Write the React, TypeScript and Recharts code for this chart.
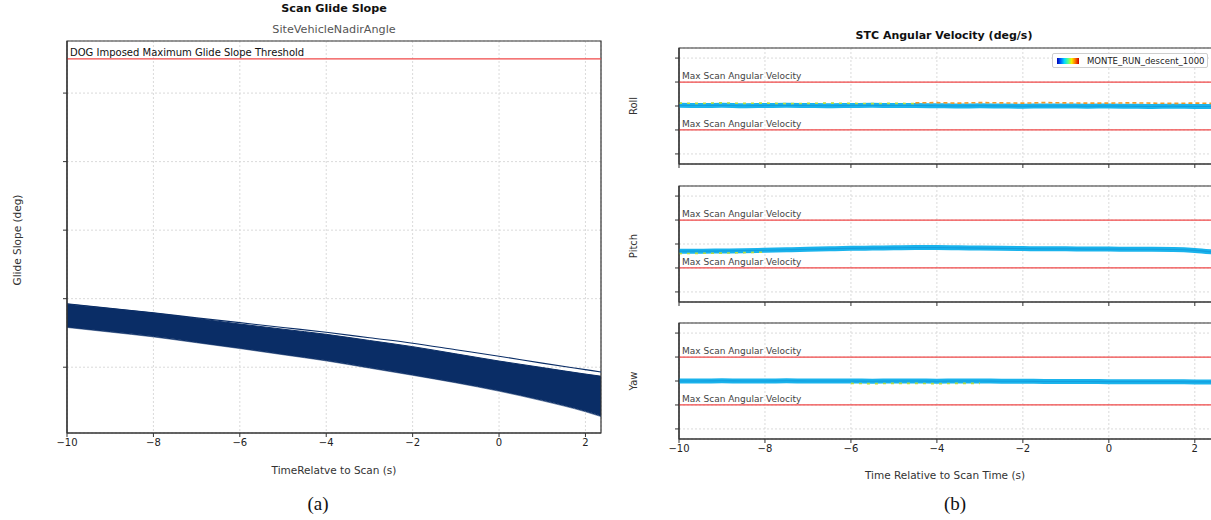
import React from 'react';
import {
  ComposedChart,
  Area,
  Line,
  XAxis,
  YAxis,
  CartesianGrid,
  ReferenceLine,
  ReferenceArea
} from 'recharts';

// ---- (a) Scan glide slope ----
const glideTime = [-10, -9, -8, -7, -6, -5, -4, -3, -2, -1, 0, 1, 2, 2.36];
const glideUpper = [19.2, 18.55, 17.9, 17.1, 16.3, 15.55, 14.8, 13.9, 13.0, 11.95, 10.9, 9.95, 9.0, 8.69];
const glideLower = [15.88, 15.2, 14.5, 13.65, 12.8, 11.9, 11.0, 9.95, 8.9, 7.8, 6.6, 5.2, 3.6, 2.9];
const glideHighRun = [19.25, 18.6, 17.95, 17.2, 16.5, 15.8, 15.1, 14.3, 13.5, 12.55, 11.6, 10.6, 9.65, 9.31];
const glideLowRun = [15.8, 15.12, 14.42, 13.57, 12.72, 11.82, 10.92, 9.87, 8.82, 7.72, 6.5, 5.1, 3.5, 2.8];
const glideThreshold = 55;
const glideTicksX = [-10, -8, -6, -4, -2, 0, 2];
const glideTicksY = [10, 20, 30, 40, 50];

// ---- (b) STC angular velocity ----
const rateTime = [-10, -9.5, -9, -8.5, -8, -7.5, -7, -6.5, -6, -5.5, -5, -4.5, -4, -3.5, -3, -2.5, -2, -1.5, -1, -0.5, 0, 0.5, 1, 1.5, 2, 2.4];
const rollRate = [0.03, 0.02, 0.03, 0.01, 0.02, 0.03, 0.02, 0.01, 0.02, 0.03, 0.02, 0.02, 0.01, 0.0, 0.01, 0.0, -0.01, 0.0, 0.0, -0.01, 0.0, -0.01, -0.02, -0.01, -0.02, -0.02];
const rollWarm = [null, null, null, null, null, null, null, null, null, null, null, 0.13, 0.14, 0.12, 0.14, 0.13, 0.12, 0.14, 0.13, 0.12, 0.12, 0.13, 0.12, 0.11, 0.12, 0.11];
const rollCool = [0.12, 0.11, 0.13, 0.11, 0.12, 0.1, 0.11, 0.12, 0.11, 0.1, 0.11, 0.1, null, null, null, null, null, null, null, null, null, null, null, null, null, null];
const pitchRate = [-0.3, -0.3, -0.29, -0.28, -0.26, -0.24, -0.22, -0.2, -0.18, -0.17, -0.16, -0.15, -0.15, -0.16, -0.17, -0.18, -0.19, -0.2, -0.2, -0.21, -0.21, -0.22, -0.22, -0.23, -0.27, -0.33];
const pitchCool = [-0.4, -0.39, -0.38, -0.36, -0.34, null, null, null, null, null, null, null, null, null, null, null, null, null, null, null, null, null, null, null, null, null];
const yawRate = [0.0, 0.0, 0.01, 0.0, 0.0, 0.01, 0.0, 0.0, 0.0, -0.01, 0.0, 0.0, -0.01, 0.0, 0.0, -0.01, -0.01, -0.02, -0.02, -0.02, -0.03, -0.03, -0.03, -0.03, -0.04, -0.04];
const yawCool = [null, null, null, null, null, null, null, null, -0.1, -0.11, -0.1, -0.1, -0.11, -0.1, -0.1, null, null, null, null, null, null, null, null, null, null, null];
const maxScanRate = 1;
const rateTicksX = [-10, -8, -6, -4, -2, 0, 2];
const rateTicksY = [-2, -1, 0, 1, 2];

const ink = '#333';
const font = '"DejaVu Sans", Verdana, sans-serif';
const navy = '#0a2d66';
const cyan = '#1ab3ec';
const red = '#f04848';
const gridColor = '#dadada';

const minus = (v: number) => String(v).replace('-', '\u2212');
const blank = () => '';

const glideData = glideTime.map((t, i) => ({
  t,
  band: [glideLower[i], glideUpper[i]],
  high: glideHighRun[i],
  low: glideLowRun[i]
}));

const rateRows = (main: number[], warm: (number | null)[] | null, cool: (number | null)[] | null) =>
  rateTime.map((t, i) => ({
    t,
    v: main[i],
    warm: warm ? warm[i] : null,
    cool: cool ? cool[i] : null
  }));

const rollData = rateRows(rollRate, rollWarm, rollCool);
const pitchData = rateRows(pitchRate, null, pitchCool);
const yawData = rateRows(yawRate, null, yawCool);

const text = (style: React.CSSProperties): React.CSSProperties => ({
  position: 'absolute',
  fontFamily: font,
  whiteSpace: 'nowrap',
  transform: 'translate(-50%, -50%)',
  ...style
});

const GlideChart = () => (
  <ComposedChart
    width={620}
    height={520}
    data={glideData}
    margin={{ top: 41, right: 19, bottom: 57, left: 57 }}
  >
    <CartesianGrid stroke={gridColor} strokeDasharray="2 2" />
    <XAxis
      dataKey="t"
      type="number"
      domain={[-10, 2.36]}
      ticks={glideTicksX}
      allowDataOverflow
      tickFormatter={minus}
      tick={{ fill: '#222', fontSize: 10, fontFamily: font }}
      tickSize={4}
      height={30}
      axisLine={{ stroke: ink, strokeWidth: 1.2 }}
      tickLine={{ stroke: ink }}
    />
    <YAxis
      type="number"
      domain={[0.4, 57.6]}
      ticks={glideTicksY}
      allowDataOverflow
      tickFormatter={blank}
      tick={{ fontSize: 1 }}
      tickSize={4}
      width={10}
      axisLine={{ stroke: ink, strokeWidth: 1.2 }}
      tickLine={{ stroke: ink }}
    />
    <Area
      dataKey="band"
      type="monotone"
      stroke={navy}
      strokeWidth={1}
      fill={navy}
      fillOpacity={1}
      isAnimationActive={false}
    />
    <Line dataKey="high" type="monotone" stroke={navy} strokeWidth={1.1} dot={false} isAnimationActive={false} />
    <Line dataKey="low" type="monotone" stroke={navy} strokeOpacity={0.75} strokeWidth={0.8} dot={false} isAnimationActive={false} />
    <ReferenceLine
      y={glideThreshold}
      stroke={red}
      strokeWidth={1.3}
      label={{
        value: 'DOG Imposed Maximum Glide Slope Threshold',
        position: 'insideBottomLeft',
        offset: 3,
        fill: '#111',
        fontSize: 10,
        fontFamily: font
      }}
    />
    <ReferenceArea x1={-10} x2={2.36} y1={0.4} y2={57.6} fill="none" stroke={ink} strokeWidth={1.2} />
  </ComposedChart>
);

interface RatePanelProps {
  data: ReturnType<typeof rateRows>;
  showLabels: boolean;
}

const RatePanel: React.FC<RatePanelProps> = ({ data, showLabels }) => {
  const axisH = showLabels ? 30 : 6;
  const plotH = 116;
  const scanLabel = {
    value: 'Max Scan Angular Velocity',
    position: 'insideBottomLeft' as const,
    offset: 3,
    fill: '#444',
    fontSize: 9,
    fontFamily: font
  };
  return (
    <ComposedChart
      width={600}
      height={10 + plotH + axisH + 6}
      data={data}
      margin={{ top: 10, right: 8, bottom: 6, left: 49 }}
    >
      <CartesianGrid stroke={gridColor} strokeDasharray="2 2" />
      <XAxis
        dataKey="t"
        type="number"
        domain={[-10, 2.4]}
        ticks={rateTicksX}
        allowDataOverflow
        tickFormatter={showLabels ? minus : blank}
        tick={{ fill: '#222', fontSize: showLabels ? 10 : 1, fontFamily: font }}
        tickSize={4}
        height={axisH}
        axisLine={{ stroke: ink, strokeWidth: 1.2 }}
        tickLine={{ stroke: ink }}
      />
      <YAxis
        type="number"
        domain={[-2.42, 2.42]}
        ticks={rateTicksY}
        allowDataOverflow
        tickFormatter={blank}
        tick={{ fontSize: 1 }}
        tickSize={4}
        width={10}
        axisLine={{ stroke: ink, strokeWidth: 1.2 }}
        tickLine={{ stroke: ink }}
      />
      <ReferenceLine y={maxScanRate} stroke={red} strokeWidth={1.3} label={scanLabel} />
      <ReferenceLine y={-maxScanRate} stroke={red} strokeWidth={1.3} label={scanLabel} />
      <Line dataKey="v" type="monotone" stroke={cyan} strokeWidth={5} dot={false} isAnimationActive={false} />
      <Line dataKey="v" type="monotone" stroke="#139ede" strokeWidth={1.2} dot={false} isAnimationActive={false} />
      <Line dataKey="cool" type="monotone" stroke="#b8dc40" strokeWidth={1.6} strokeDasharray="3 5" dot={false} connectNulls={false} isAnimationActive={false} />
      <Line dataKey="warm" type="monotone" stroke="#f09a28" strokeWidth={1.6} strokeDasharray="4 3" dot={false} connectNulls={false} isAnimationActive={false} />
      <ReferenceArea x1={-10} x2={2.4} y1={-2.42} y2={2.42} fill="none" stroke={ink} strokeWidth={1.2} />
    </ComposedChart>
  );
};

const App = () => (
  <div
    style={{
      position: 'absolute',
      left: 0,
      top: 0,
      width: 1211,
      height: 520,
      overflow: 'hidden',
      background: '#fff'
    }}
  >
    <div style={{ position: 'absolute', left: 0, top: 0 }}>
      <GlideChart />
    </div>
    <div style={text({ left: 334, top: 8, fontSize: 11.2, fontWeight: 'bold', color: '#111' })}>Scan Glide Slope</div>
    <div style={text({ left: 334, top: 29, fontSize: 11.2, color: '#555' })}>SiteVehicleNadirAngle</div>
    <div style={text({ left: 17, top: 240, fontSize: 10.5, color: '#333', transform: 'translate(-50%, -50%) rotate(-90deg)' })}>
      Glide Slope (deg)
    </div>
    <div style={text({ left: 334, top: 470, fontSize: 10.5, color: '#333' })}>TimeRelatve to Scan (s)</div>
    <div style={text({ left: 318, top: 504, fontSize: 19, fontFamily: '"Liberation Serif", "Times New Roman", serif', color: '#111' })}>(a)</div>

    <div style={{ position: 'absolute', left: 620, top: 38 }}>
      <RatePanel data={rollData} showLabels={false} />
    </div>
    <div style={{ position: 'absolute', left: 620, top: 176 }}>
      <RatePanel data={pitchData} showLabels={false} />
    </div>
    <div style={{ position: 'absolute', left: 620, top: 313 }}>
      <RatePanel data={yawData} showLabels />
    </div>

    <div style={text({ left: 944, top: 35, fontSize: 11, fontWeight: 'bold', color: '#111' })}>STC Angular Velocity (deg/s)</div>
    <div style={text({ left: 633, top: 106, fontSize: 10, color: '#333', transform: 'translate(-50%, -50%) rotate(-90deg)' })}>Roll</div>
    <div style={text({ left: 633, top: 246, fontSize: 10, color: '#333', transform: 'translate(-50%, -50%) rotate(-90deg)' })}>Pitch</div>
    <div style={text({ left: 633, top: 381, fontSize: 10, color: '#333', transform: 'translate(-50%, -50%) rotate(-90deg)' })}>Yaw</div>
    <div style={text({ left: 945, top: 475, fontSize: 10.5, color: '#333' })}>Time Relative to Scan Time (s)</div>
    <div style={text({ left: 955, top: 504, fontSize: 19, fontFamily: '"Liberation Serif", "Times New Roman", serif', color: '#111' })}>(b)</div>

    <div
      style={{
        position: 'absolute',
        left: 1052,
        top: 53,
        width: 154,
        height: 13,
        border: '1px solid #cfcfcf',
        borderRadius: 2,
        background: '#fff',
        display: 'flex',
        alignItems: 'center',
        fontFamily: font,
        fontSize: 8.5,
        color: '#222'
      }}
    >
      <span
        style={{
          marginLeft: 4,
          width: 22,
          height: 6,
          background: 'linear-gradient(to right, #0000b4, #0060ff, #00d8ff, #50ff90, #f8f000, #ff7000, #c80000)'
        }}
      />
      <span style={{ marginLeft: 8 }}>MONTE_RUN_descent_1000</span>
    </div>
  </div>
);

export default App;
